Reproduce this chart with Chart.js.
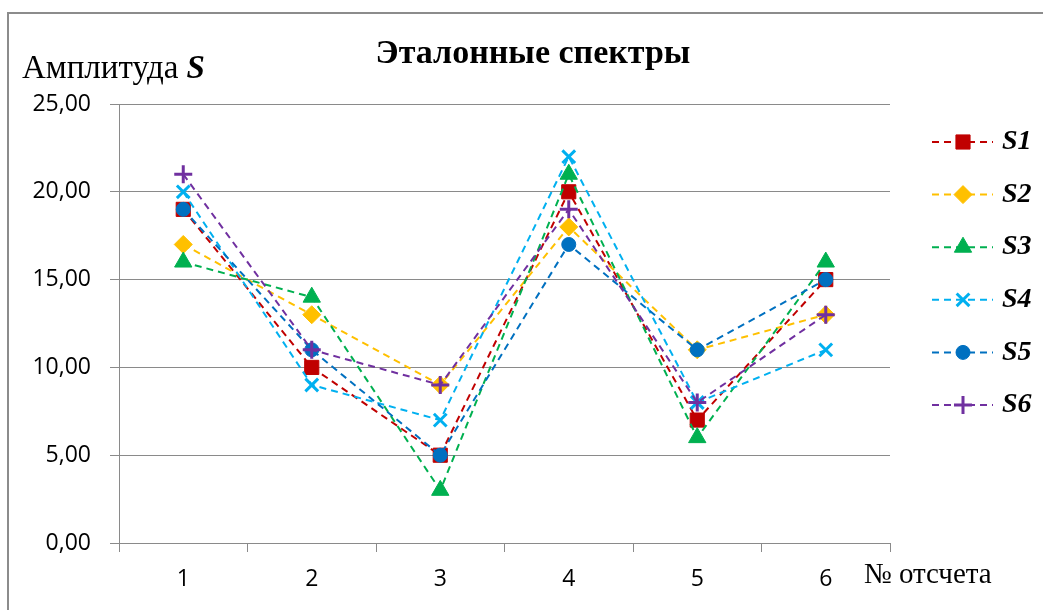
<!DOCTYPE html>
<html>
<head>
<meta charset="utf-8">
<script src="https://cdn.jsdelivr.net/npm/chart.js@4"></script>
<style>
  html, body { margin: 0; padding: 0; background: #fff; }
  #wrap { width: 1043px; height: 610px; }
</style>
</head>
<body>
<div id="wrap"><canvas id="myChart" width="1043" height="610"></canvas></div>
<script>
const categories = ["1", "2", "3", "4", "5", "6"];
const seriesNames = ["S1", "S2", "S3", "S4", "S5", "S6"];
const s1 = [19, 10, 5, 20, 7, 15];
const s2 = [17, 13, 9, 18, 11, 13];
const s3 = [16, 14, 3, 21, 6, 16];
const s4 = [20, 9, 7, 22, 8, 11];
const s5 = [19, 11, 5, 17, 11, 15];
const s6 = [21, 11, 9, 19, 8, 13];
const yTicks = [0, 5, 10, 15, 20, 25];

const seriesValues = [s1, s2, s3, s4, s5, s6];
const colors = ["#C00000", "#FFC000", "#00B050", "#00B0F0", "#0070C0", "#7030A0"];
const styles = ["rect", "rectRot", "triangle", "crossRot", "circle", "cross"];
const radii = [10, 9, 10, 9, 7, 9];

const serif = "'Liberation Serif', 'Times New Roman', serif";
const gridColor = "#8a8a8a";

const datasets = seriesValues.map((vals, i) => ({
    label: seriesNames[i],
    data: vals,
    borderColor: colors[i],
    backgroundColor: colors[i],
    borderWidth: 2,
    borderDash: [7, 5],
    pointStyle: styles[i],
    pointRadius: radii[i],
    pointBorderWidth: (styles[i] === "cross" || styles[i] === "crossRot") ? 3 : 1,
    pointBorderColor: colors[i],
    pointBackgroundColor: colors[i],
    tension: 0,
    fill: false,
    order: seriesNames.length - i
}));

// frame, titles and the legend drawn around the plot
const decor = {
    id: "decor",
    afterDraw(chart) {
        const ctx = chart.ctx;
        ctx.save();

        ctx.strokeStyle = "#8c8c8c";
        ctx.lineWidth = 2;
        ctx.beginPath();
        ctx.moveTo(8, 610);
        ctx.lineTo(8, 13);
        ctx.lineTo(1043, 13);
        ctx.stroke();

        ctx.fillStyle = "#000";
        ctx.textBaseline = "middle";
        ctx.textAlign = "center";
        ctx.font = "bold 34px " + serif;
        ctx.fillText("Эталонные спектры", 533, 54);

        ctx.textAlign = "left";
        ctx.font = "33px " + serif;
        const amp = "Амплитуда ";
        ctx.fillText(amp, 22, 69);
        const w = ctx.measureText(amp).width;
        ctx.font = "bold italic 33px " + serif;
        ctx.fillText("S", 22 + w, 69);

        ctx.font = "29px " + serif;
        ctx.fillText("№ отсчета", 864, 575);

        chart.data.datasets.forEach((ds, i) => {
            const y = 142 + i * 52.6;
            ctx.strokeStyle = ds.borderColor;
            ctx.lineWidth = 2;
            ctx.setLineDash([7, 5]);
            ctx.beginPath();
            ctx.moveTo(932, y);
            ctx.lineTo(993, y);
            ctx.stroke();
            ctx.setLineDash([]);
            ctx.fillStyle = ds.backgroundColor;
            ctx.lineWidth = ds.pointBorderWidth;
            Chart.helpers.drawPoint(ctx, { pointStyle: ds.pointStyle, radius: ds.pointRadius, rotation: 0, borderWidth: ds.pointBorderWidth }, 963, y);
            ctx.fillStyle = "#000";
            ctx.font = "bold italic 28px " + serif;
            ctx.textAlign = "left";
            ctx.fillText(ds.label, 1002, y);
        });
        ctx.restore();
    }
};

new Chart(document.getElementById("myChart"), {
    type: "line",
    data: { labels: categories, datasets: datasets },
    options: {
        responsive: false,
        animation: false,
        layout: { padding: { top: 104, left: 0, right: 153, bottom: 0 } },
        plugins: {
            legend: { display: false },
            title: { display: false },
            tooltip: { enabled: false }
        },
        scales: {
            x: {
                offset: true,
                grid: {
                    display: true,
                    offset: true,
                    drawOnChartArea: false,
                    drawTicks: true,
                    tickLength: 9,
                    color: gridColor
                },
                border: { display: true, color: gridColor, width: 1 },
                ticks: {
                    padding: 14,
                    color: "#000",
                    font: { family: "'Open Sans', sans-serif", size: 23 }
                },
                afterFit: s => { s.height = 67; }
            },
            y: {
                min: 0,
                max: 25,
                afterBuildTicks: s => { s.ticks = yTicks.map(v => ({ value: v })); },
                grid: {
                    color: gridColor,
                    drawTicks: true,
                    tickLength: 9
                },
                border: { display: true, color: gridColor, width: 1 },
                ticks: {
                    padding: 19,
                    color: "#000",
                    font: { family: "'Open Sans', sans-serif", size: 23 },
                    callback: v => Number(v).toFixed(2).replace(".", ",")
                },
                afterFit: s => { s.width = 119; }
            }
        }
    },
    plugins: [decor]
});
</script>
</body>
</html>
